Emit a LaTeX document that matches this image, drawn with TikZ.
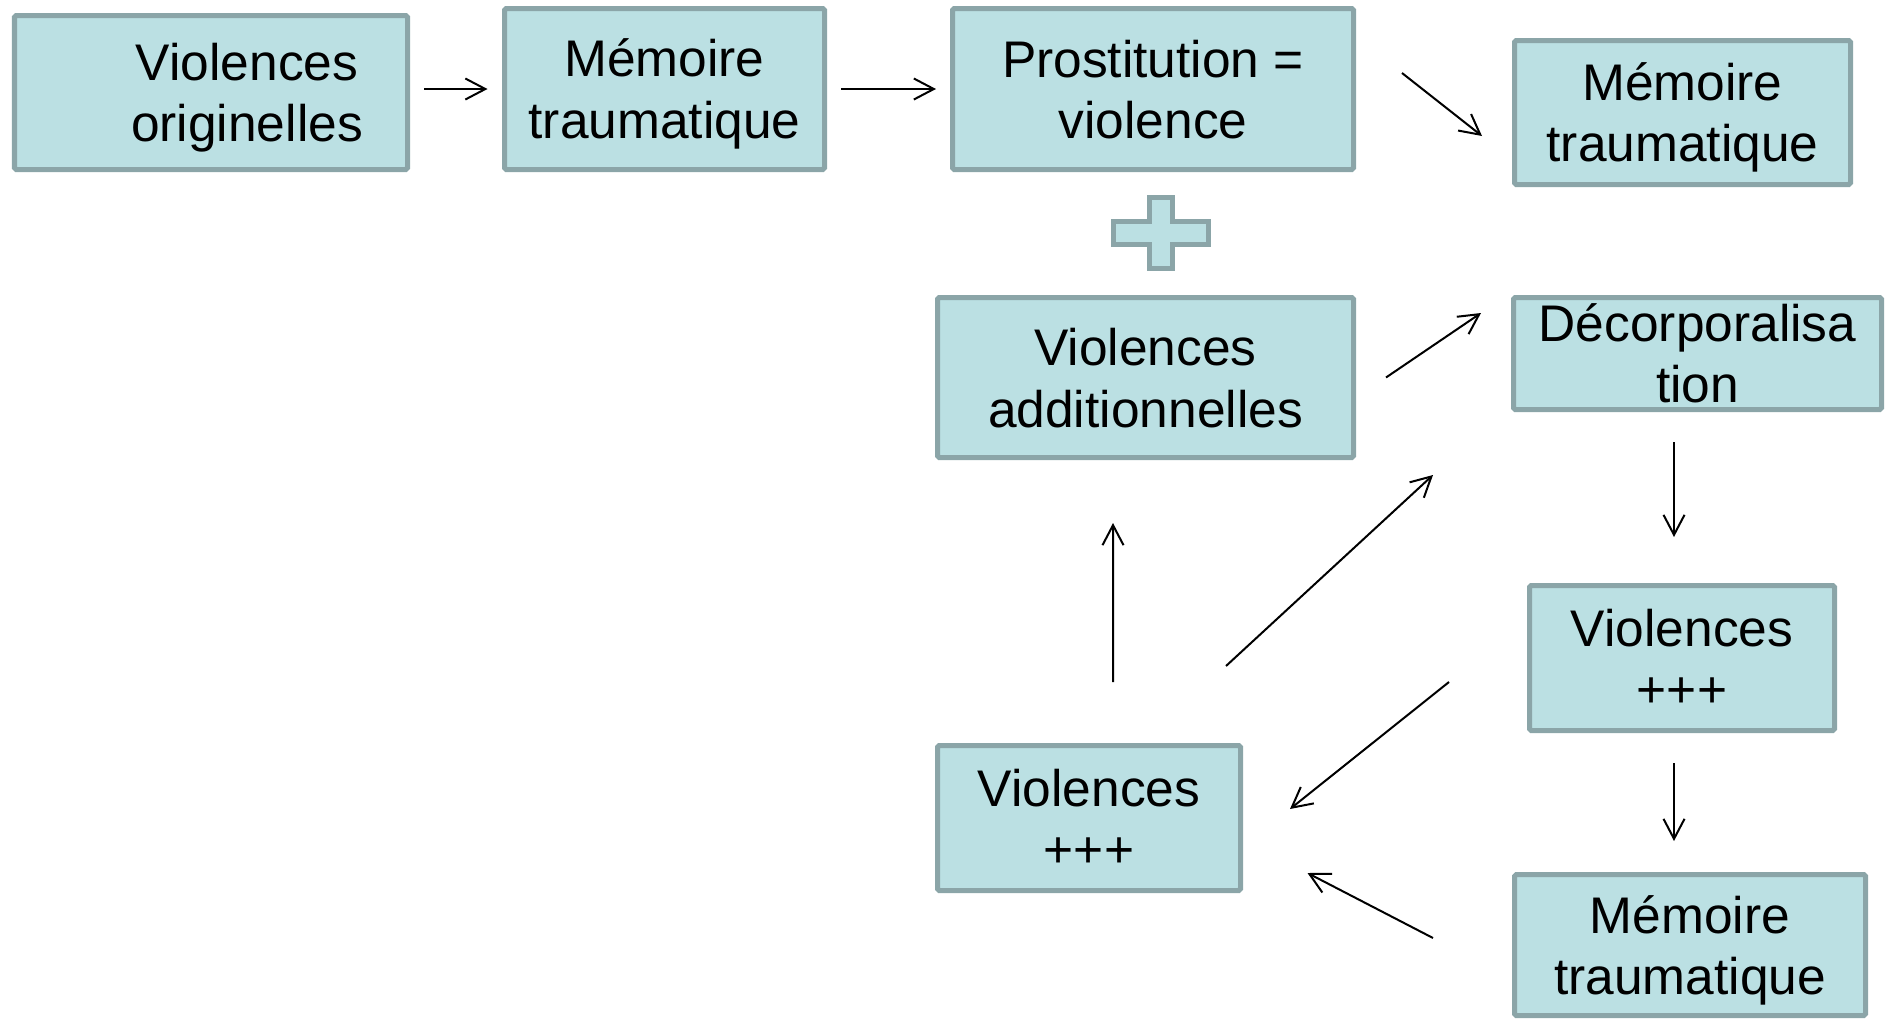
\documentclass[tikz,border=0pt]{standalone}
\usepackage{fontspec}
\setmainfont{Liberation Sans}
\usetikzlibrary{arrows.meta}

\definecolor{boxfill}{RGB}{187,224,227}
\definecolor{boxdraw}{RGB}{139,165,168}

% struts so that every two-line label sits at the same height
\newcommand{\strutT}{\rule{0pt}{0.96cm}}
\newcommand{\strutB}{\rule[-0.20cm]{0pt}{0pt}}

\begin{document}
\begin{tikzpicture}[
    box/.style={draw=boxdraw, line width=0.1cm, fill=boxfill, rounded corners=1pt, align=center, inner sep=0pt, font=\fontsize{29.3}{34.9}\selectfont},
    txt/.style={align=center, inner sep=0pt, font=\fontsize{29.3}{34.9}\selectfont},
    link/.style={-{Straight Barb[length=0.4cm, width=0.42cm]}, line width=0.04cm}
]
    \useasboundingbox (0,0) rectangle (37.72,-20.4);

    % Top row
    \node[box, minimum width=7.86cm, minimum height=3.08cm] (orig) at (4.22,-1.85) {};
    \node[txt] (origtxt) at ([xshift=0.72cm]orig.center) {\strutT Violences\\originelles\strutB};
    \node[box, minimum width=6.40cm, minimum height=3.22cm] (memA) at (13.29,-1.78) {\strutT Mémoire\\traumatique\strutB};
    \node[box, minimum width=8.02cm, minimum height=3.22cm] (prost) at (23.06,-1.78) {\strutT Prostitution =\\violence\strutB};
    \node[box, minimum width=6.72cm, minimum height=2.88cm] (memB) at (33.65,-2.25) {\strutT Mémoire\\traumatique\strutB};

    % Plus sign
    \draw[draw=boxdraw, line width=0.1cm, fill=boxfill]
        (22.99,-3.95) -- (23.45,-3.95) -- (23.45,-4.43) -- (24.17,-4.43) -- (24.17,-4.89) -- (23.45,-4.89) --
        (23.45,-5.37) -- (22.99,-5.37) -- (22.99,-4.89) -- (22.27,-4.89) -- (22.27,-4.43) -- (22.99,-4.43) -- cycle;

    % Middle and lower boxes
    \node[box, minimum width=8.32cm, minimum height=3.20cm] (addv) at (22.91,-7.55) {\strutT Violences\\additionnelles\strutB};
    \node[box, minimum width=7.36cm, minimum height=2.24cm] (decorp) at (33.95,-7.07) {Décorporalisa\\tion};
    \node[box, minimum width=6.10cm, minimum height=2.90cm] (violR) at (33.64,-13.16) {\strutT Violences\\+++\strutB};
    \node[box, minimum width=6.06cm, minimum height=2.90cm] (violL) at (21.78,-16.36) {\strutT Violences\\+++\strutB};
    \node[box, minimum width=7.02cm, minimum height=2.82cm] (memC) at (33.80,-18.90) {\strutT Mémoire\\traumatique\strutB};

    % Arrows
    \draw[link] ([shift={(0.28,0.07)}]orig.east) -- ([xshift=-0.29cm]memA.west);
    \draw[link] ([xshift=0.28cm]memA.east) -- ([xshift=-0.28cm]prost.west);
    \draw[link] ([shift={(0.92,0.32)}]prost.east) -- ([shift={(-0.60,-0.47)}]memB.west);
    \draw[link] ([xshift=0.60cm]addv.east) -- ([shift={(-0.60,0.81)}]decorp.west);
    \draw[link] ([shift={(-0.47,-0.60)}]decorp.south) -- ([shift={(-0.16,0.92)}]violR.north);
    \draw[link] ([shift={(-0.16,-0.60)}]violR.south) -- ([shift={(-0.32,0.62)}]memC.north);
    \draw[link] ([shift={(-1.56,-0.48)}]violR.west) -- ([shift={(0.94,0.18)}]violL.east);
    \draw[link] ([shift={(-1.58,0.14)}]memC.west) -- ([shift={(1.29,-1.10)}]violL.east);
    \draw[link] ([shift={(0.48,1.22)}]violL.north) -- ([shift={(-0.65,-1.26)}]addv.south);
    \draw[link] ([shift={(-0.34,1.54)}]violL.north east) -- ([shift={(-1.56,-1.26)}]decorp.south west);

\end{tikzpicture}
\end{document}
